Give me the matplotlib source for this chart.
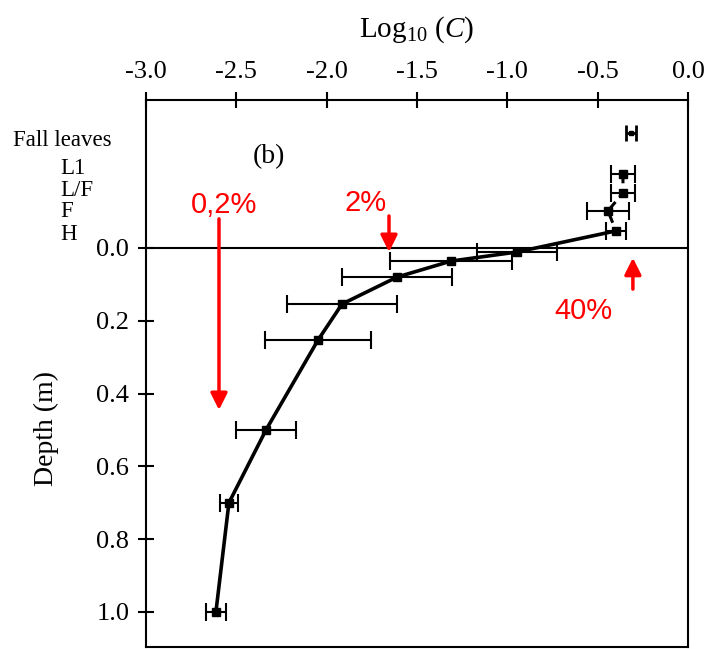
import matplotlib
matplotlib.use("Agg")
import matplotlib.pyplot as plt

# =========================
# Data
# =========================
# litter layers above the mineral soil (negative depth = above surface)
LAYER_NAMES = ["Fall leaves", "L1", "L/F", "F", "H"]
LAYER_DEPTH = [-0.316, -0.203, -0.151, -0.102, -0.047]
LAYER_LOGC = [-0.316, -0.36, -0.36, -0.443, -0.399]
LAYER_ERR = [0.028, 0.066, 0.066, 0.116, 0.055]

# mineral soil profile
SOIL_DEPTH = [0.011, 0.036, 0.080, 0.154, 0.253, 0.50, 0.70, 1.0]
SOIL_LOGC = [-0.947, -1.312, -1.611, -1.915, -2.048, -2.336, -2.541, -2.613]
SOIL_ERR = [0.221, 0.338, 0.304, 0.304, 0.293, 0.166, 0.05, 0.055]

X_TICKS = [-3.0, -2.5, -2.0, -1.5, -1.0, -0.5, 0.0]
Y_TICKS = [0.0, 0.2, 0.4, 0.6, 0.8, 1.0]

# red percent marks: (label, arrow x, arrow start y, arrow end y, text x, text y)
MARKS = [
    ("0,2%", -2.596, -0.080, 0.445, -2.568, -0.118),
    ("2%", -1.655, -0.088, 0.011, -1.782, -0.124),
    ("40%", -0.305, 0.113, 0.027, -0.576, 0.173),
]

SERIF = ["Liberation Serif", "DejaVu Serif"]
SANS = ["Liberation Sans", "DejaVu Sans"]

plt.rcParams["mathtext.fontset"] = "custom"
plt.rcParams["mathtext.rm"] = "Liberation Serif"
plt.rcParams["mathtext.it"] = "Liberation Serif:italic"

fig = plt.figure(figsize=(7.05, 6.49), dpi=100)
ax = fig.add_axes([146 / 705, 1 - 647 / 649, (688 - 146) / 705, (647 - 100) / 649])

# error bars for litter layers
ax.errorbar(LAYER_LOGC[0], LAYER_DEPTH[0], xerr=LAYER_ERR[0], fmt="s",
            color="black", ms=3, elinewidth=2, capsize=6, capthick=2)
ax.errorbar(LAYER_LOGC[1:], LAYER_DEPTH[1:], xerr=LAYER_ERR[1:], fmt="s",
            color="black", ms=6, elinewidth=1.5, capsize=6.5, capthick=1.5)
ax.plot(LAYER_LOGC[1:], LAYER_DEPTH[1:], color="black", lw=2.2,
        linestyle=(0, (3, 2)))

# soil profile, connected from the H layer downwards
ax.errorbar(SOIL_LOGC, SOIL_DEPTH, xerr=SOIL_ERR, fmt="s", color="black",
            ms=6, elinewidth=1.5, capsize=6.5, capthick=1.5)
ax.plot([LAYER_LOGC[-1]] + SOIL_LOGC, [LAYER_DEPTH[-1]] + SOIL_DEPTH,
        color="black", lw=2.6)

# soil surface
ax.axhline(0.0, color="black", lw=1.5)

ax.set_xlim(-3.0, 0.0)
ax.set_ylim(1.0962, -0.4066)

ax.xaxis.tick_top()
ax.xaxis.set_label_position("top")
ax.set_xticks(X_TICKS)
ax.set_xticklabels([f"{t:.1f}" for t in X_TICKS], fontfamily=SERIF, fontsize=19)
ax.set_yticks(Y_TICKS)
ax.set_yticklabels([f"{t:.1f}" for t in Y_TICKS], fontfamily=SERIF, fontsize=19)
ax.tick_params(axis="both", direction="inout", length=12, width=1.5, pad=6)
ax.tick_params(axis="x", pad=6)
for s in ax.spines.values():
    s.set_linewidth(1.5)

ax.set_xlabel("Log$_{10}$ ($C$)", fontfamily=SERIF, fontsize=21, labelpad=18)
ax.set_ylabel("Depth (m)", fontfamily=SERIF, fontsize=20)
ax.yaxis.set_label_coords(-0.16, 0.4)

# layer names at the left of the axis (pixel rows from the reference)
label_rows = [140, 168, 190, 212, 235]
for i, (name, row) in enumerate(zip(LAYER_NAMES, label_rows)):
    fig.text(13 / 705 if i == 0 else 60 / 705, 1 - row / 649, name,
             fontfamily=SERIF, fontsize=16.5, va="center", ha="left")

ax.text(-2.319, -0.25, "(b)", fontfamily=SERIF, fontsize=20,
        ha="center", va="center")

# red annotations
for label, ax_x, y0, y1, tx, ty in MARKS:
    ax.annotate("", xy=(ax_x, y1), xytext=(ax_x, y0),
                arrowprops=dict(arrowstyle="-|>", color="red", lw=2.5,
                                mutation_scale=25, shrinkA=0, shrinkB=0))
    ax.text(tx, ty, label, color="red", fontfamily=SANS, fontsize=21,
            ha="center", va="center")

fig.savefig("out.png", dpi=100)
